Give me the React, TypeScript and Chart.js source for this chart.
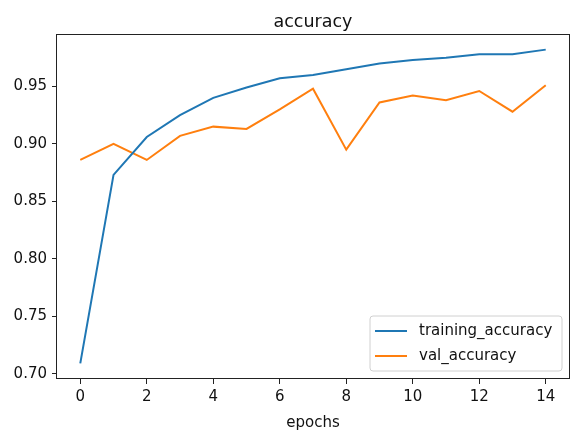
import React, { useEffect, useRef } from "react";
import { Chart, registerables } from "chart.js";

Chart.register(...registerables);

// ---- data ----
const epochs = [0, 1, 2, 3, 4, 5, 6, 7, 8, 9, 10, 11, 12, 13, 14];
const trainingAccuracy = [0.709, 0.873, 0.906, 0.925, 0.94, 0.949, 0.957, 0.96, 0.965, 0.97, 0.973, 0.975, 0.978, 0.978, 0.982];
const valAccuracy = [0.886, 0.9, 0.886, 0.907, 0.915, 0.913, 0.93, 0.948, 0.895, 0.936, 0.942, 0.938, 0.946, 0.928, 0.951];
const seriesLabels = ["training_accuracy", "val_accuracy"];
const seriesColors = ["#1f77b4", "#ff7f0e"];
const xTicks = [0, 2, 4, 6, 8, 10, 12, 14];
const yTicks = [0.7, 0.75, 0.8, 0.85, 0.9, 0.95];
const chartTitle = "accuracy";
const xAxisLabel = "epochs";

const FONT = '"DejaVu Sans", sans-serif';

const mplPlugin = {
  id: "mplDecor",
  afterDraw(chart: any) {
    const { ctx, chartArea: a } = chart;
    ctx.save();
    // frame
    ctx.strokeStyle = "#222";
    ctx.lineWidth = 1;
    ctx.strokeRect(Math.round(a.left) - 0.5, Math.round(a.top) + 0.5, Math.round(a.right - a.left) + 1, Math.round(a.bottom - a.top) - 1);
    // title
    ctx.fillStyle = "#111";
    ctx.font = `17.5px ${FONT}`;
    ctx.textAlign = "center";
    ctx.textBaseline = "alphabetic";
    ctx.fillText(chartTitle, (a.left + a.right) / 2, a.top - 7);
    // legend (lower right)
    const ds = chart.data.datasets;
    const boxRight = a.right - 7;
    const boxBottom = a.bottom - 8;
    const boxW = 192;
    const boxH = 55;
    const bx = boxRight - boxW;
    const by = boxBottom - boxH;
    ctx.beginPath();
    const r = 3;
    ctx.moveTo(bx + r, by);
    ctx.lineTo(bx + boxW - r, by);
    ctx.quadraticCurveTo(bx + boxW, by, bx + boxW, by + r);
    ctx.lineTo(bx + boxW, by + boxH - r);
    ctx.quadraticCurveTo(bx + boxW, by + boxH, bx + boxW - r, by + boxH);
    ctx.lineTo(bx + r, by + boxH);
    ctx.quadraticCurveTo(bx, by + boxH, bx, by + boxH - r);
    ctx.lineTo(bx, by + r);
    ctx.quadraticCurveTo(bx, by, bx + r, by);
    ctx.closePath();
    ctx.fillStyle = "rgba(255,255,255,0.8)";
    ctx.fill();
    ctx.strokeStyle = "#d0d0d0";
    ctx.stroke();
    ctx.font = `15px ${FONT}`;
    ctx.textAlign = "left";
    ctx.textBaseline = "middle";
    ds.forEach((d: any, i: number) => {
      const cy = by + 15 + i * 25;
      ctx.strokeStyle = d.borderColor;
      ctx.lineWidth = 2;
      ctx.beginPath();
      ctx.moveTo(bx + 5, cy);
      ctx.lineTo(bx + 37, cy);
      ctx.stroke();
      ctx.fillStyle = "#111";
      ctx.fillText(d.label, bx + 49, cy);
    });
    ctx.restore();
  },
};

export default function App() {
  const ref = useRef<HTMLCanvasElement | null>(null);
  useEffect(() => {
    if (!ref.current) return;
    const makePoints = (vals: number[]) => epochs.map((e, i) => ({ x: e, y: vals[i] }));
    const chart = new Chart(ref.current, {
      type: "line",
      data: {
        datasets: [
          { label: seriesLabels[0], data: makePoints(trainingAccuracy), borderColor: seriesColors[0], backgroundColor: seriesColors[0], borderWidth: 2, pointRadius: 0, tension: 0 },
          { label: seriesLabels[1], data: makePoints(valAccuracy), borderColor: seriesColors[1], backgroundColor: seriesColors[1], borderWidth: 2, pointRadius: 0, tension: 0 },
        ],
      },
      options: {
        animation: false,
        responsive: false,
        devicePixelRatio: 1,
        layout: { padding: { top: 34, right: 5, left: 0, bottom: 0 } },
        plugins: { legend: { display: false }, title: { display: false }, tooltip: { enabled: false } },
        scales: {
          x: {
            type: "linear",
            min: -0.7,
            max: 14.7,
            afterFit: (s: any) => { s.height = 54; },
            afterBuildTicks: (s: any) => { s.ticks = xTicks.map((v) => ({ value: v })); },
            grid: { display: true, drawOnChartArea: false, drawTicks: true, tickLength: 5, color: "#222" },
            border: { display: false },
            ticks: { font: { family: FONT, size: 15 }, color: "#111", padding: 4, maxRotation: 0, callback: (v: any) => String(v) },
            title: { display: true, text: xAxisLabel, font: { family: FONT, size: 15 }, color: "#111", padding: { top: 0, bottom: 1 } },
          },
          y: {
            type: "linear",
            min: 0.6954,
            max: 0.9956,
            afterFit: (s: any) => { s.width = 57; },
            afterBuildTicks: (s: any) => { s.ticks = yTicks.map((v) => ({ value: v })); },
            grid: { display: true, drawOnChartArea: false, drawTicks: true, tickLength: 5, color: "#222" },
            border: { display: false },
            ticks: { font: { family: FONT, size: 15 }, color: "#111", padding: 5, callback: (v: any) => Number(v).toFixed(2) },
          },
        },
      },
      plugins: [mplPlugin],
    });
    return () => chart.destroy();
  }, []);
  return (
    <div style={{ position: "absolute", left: 0, top: 0, width: 574, height: 433, background: "#fff" }}>
      <canvas ref={ref} width={574} height={433} style={{ display: "block" }} />
    </div>
  );
}
